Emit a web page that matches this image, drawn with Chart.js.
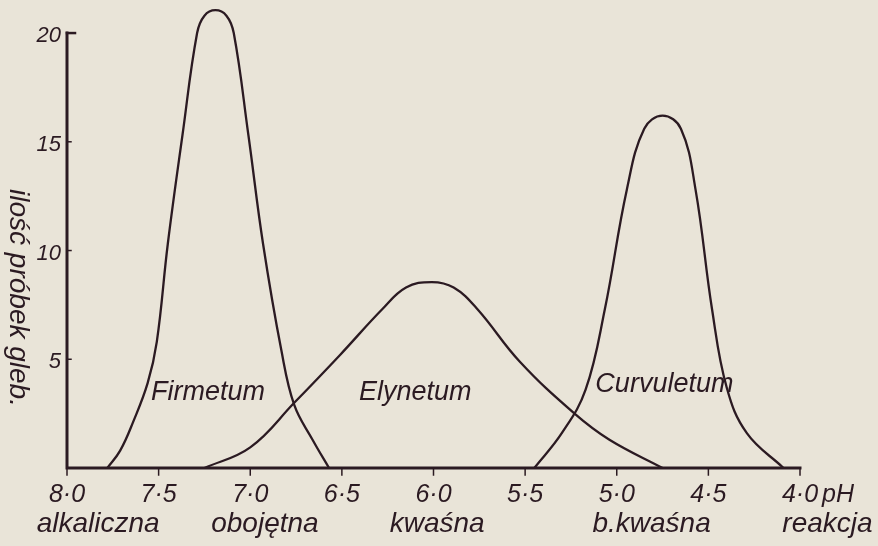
<!DOCTYPE html>
<html>
<head>
<meta charset="utf-8">
<script src="https://cdn.jsdelivr.net/npm/chart.js@4"></script>
<style>
  html, body { margin: 0; padding: 0; background: #e9e4d8; }
  canvas { display: block; }
</style>
</head>
<body>
<canvas id="chart" width="878" height="546"></canvas>
<script>
// pH reading (x) and number of soil samples (y) for each association
let firmetumPH    = [7.78, 7.71, 7.64, 7.56, 7.51, 7.45, 7.37, 7.29, 7.25, 7.19, 7.13, 7.09, 7.01, 6.93, 6.83, 6.76, 6.66, 6.57];
let firmetumCount = [0, 0.8, 2.1, 3.9, 5.8, 10.3, 15.3, 20, 20.8, 21.05, 20.8, 20, 15.3, 10.3, 5.4, 2.9, 1.3, 0];

let elynetumPH    = [7.25, 7.0, 6.76, 6.51, 6.28, 6.15, 6.01, 5.89, 5.76, 5.53, 5.23, 5.04, 4.75];
let elynetumCount = [0, 0.95, 3.0, 5.2, 7.3, 8.3, 8.55, 8.3, 7.3, 4.9, 2.5, 1.3, 0];

let curvuletumPH    = [5.45, 5.30, 5.17, 5.065, 4.945, 4.85, 4.75, 4.65, 4.57, 4.48, 4.40, 4.29, 4.09];
let curvuletumCount = [0, 1.6, 3.6, 7.3, 12.8, 15.6, 16.2, 15.6, 12.8, 7.3, 3.7, 1.6, 0];

let seriesNames = ["Firmetum", "Elynetum", "Curvuletum"];
let seriesLabelPH = [7.23, 6.10, 4.74];
let seriesLabelCount = [3.45, 3.45, 3.86];

let xTicks = [8.0, 7.5, 7.0, 6.5, 6.0, 5.5, 5.0, 4.5, 4.0];
let xTickLabels = ["8·0", "7·5", "7·0", "6·5", "6·0", "5·5", "5·0", "4·5", "4·0"];
let xUnit = "pH";
let yTicks = [5, 10, 15, 20];
let yTitle = "ilość próbek gleb.";

let reactionNames = ["alkaliczna", "obojętna", "kwaśna", "b.kwaśna", "reakcja"];
let reactionPH = [7.83, 6.92, 5.98, 4.81, 3.85];

const ink = "#2b1a22";
const hand = "'Liberation Sans', Arial, sans-serif";

function points(xs, ys) {
    let pts = [];
    for (let i = 0; i < xs.length; i++) pts.push({x: xs[i], y: ys[i]});
    return pts;
}

function curve(label, xs, ys) {
    return {
        label: label,
        data: points(xs, ys),
        borderColor: ink,
        borderWidth: 2.3,
        pointRadius: 0,
        fill: false,
        tension: 0.4,
        clip: false
    };
}

const drawing = {
    id: "drawing",
    afterDraw(chart) {
        let ctx = chart.ctx;
        let x = chart.scales.x, y = chart.scales.y;
        let x0 = x.getPixelForValue(8), x1 = x.getPixelForValue(4);
        let y0 = y.getPixelForValue(0), yTop = y.getPixelForValue(20);
        ctx.save();
        ctx.strokeStyle = ink;
        ctx.fillStyle = ink;
        ctx.lineCap = "square";

        // axes
        ctx.lineWidth = 3;
        ctx.beginPath();
        ctx.moveTo(x0, yTop);
        ctx.lineTo(x0, y0);
        ctx.lineTo(x1, y0);
        ctx.stroke();

        // x ticks and labels
        ctx.lineWidth = 1.5;
        ctx.font = "italic 25px " + hand;
        ctx.textAlign = "center";
        ctx.textBaseline = "alphabetic";
        xTicks.forEach((v, i) => {
            let px = x.getPixelForValue(v);
            ctx.beginPath();
            ctx.moveTo(px, y0 + 1);
            ctx.lineTo(px, y0 + 7);
            ctx.stroke();
            ctx.fillText(xTickLabels[i], px, y0 + 34);
        });
        ctx.textAlign = "left";
        ctx.fillText(xUnit, x1 + 22, y0 + 34);

        // y ticks and labels
        ctx.font = "italic 22px " + hand;
        ctx.textAlign = "right";
        ctx.textBaseline = "middle";
        yTicks.forEach((v) => {
            let py = y.getPixelForValue(v);
            ctx.lineWidth = v === 20 ? 2.5 : 1.5;
            ctx.beginPath();
            ctx.moveTo(x0, py);
            ctx.lineTo(x0 + (v === 20 ? 8 : 4), py);
            ctx.stroke();
            ctx.fillText(String(v), x0 - 6, py + 3);
        });

        // reaction names under the ticks
        ctx.font = "italic 28px " + hand;
        ctx.textAlign = "center";
        ctx.textBaseline = "alphabetic";
        reactionNames.forEach((t, i) => {
            ctx.fillText(t, x.getPixelForValue(reactionPH[i]), y0 + 64);
        });

        // association names
        ctx.font = "italic 27px " + hand;
        ctx.textBaseline = "middle";
        seriesNames.forEach((t, i) => {
            ctx.fillText(t, x.getPixelForValue(seriesLabelPH[i]), y.getPixelForValue(seriesLabelCount[i]));
        });

        // y title, rotated to read downwards
        ctx.translate(18, 298);
        ctx.rotate(Math.PI / 2);
        ctx.font = "italic 28px " + hand;
        ctx.textAlign = "center";
        ctx.fillText(yTitle, 0, 0);
        ctx.restore();
    }
};

new Chart(document.getElementById("chart"), {
    type: "line",
    data: {
        datasets: [
            curve(seriesNames[0], firmetumPH, firmetumCount),
            curve(seriesNames[1], elynetumPH, elynetumCount),
            curve(seriesNames[2], curvuletumPH, curvuletumCount)
        ]
    },
    options: {
        responsive: false,
        animation: false,
        layout: { padding: { left: 67, right: 78, top: 0, bottom: 78 } },
        plugins: { legend: { display: false }, tooltip: { enabled: false } },
        scales: {
            x: { type: "linear", min: 4, max: 8, reverse: true, display: false },
            y: { min: 0, max: 21.52, display: false }
        }
    },
    plugins: [drawing]
});
</script>
</body>
</html>
